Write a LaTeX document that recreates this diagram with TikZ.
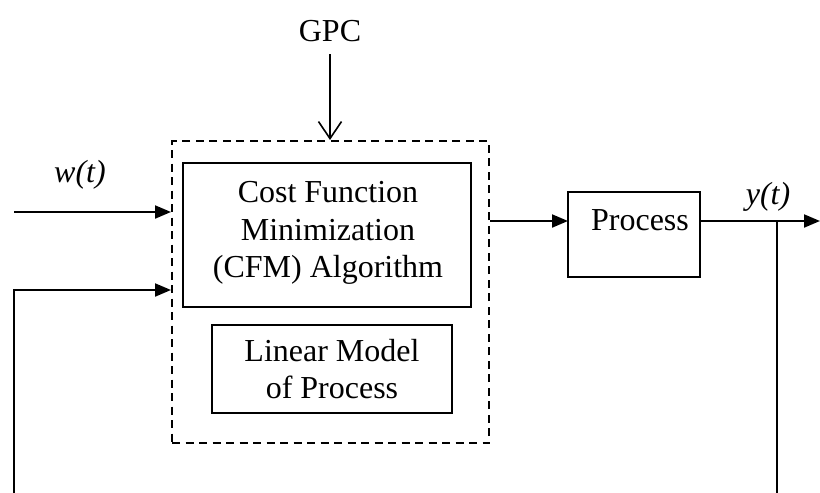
\documentclass[tikz,border=0pt]{standalone}
\usepackage{fontspec}
\setmainfont{Liberation Serif}
\usetikzlibrary{arrows.meta}
\begin{document}
\begin{tikzpicture}[x=1pt,y=-1pt,
  every node/.style={font=\fontsize{32}{37.5}\selectfont,align=center},
  blk/.style={draw,line width=2pt,inner sep=0pt},
  frame/.style={draw,line width=2pt,dash pattern=on 8pt off 5.5pt,inner sep=0pt},
  wire/.style={line width=2pt},
  flow/.style={wire,-{Triangle[length=16pt,width=13pt]}},
  gpcarrow/.style={line width=1.6pt,-{Straight Barb[length=17pt,width=23pt,line width=1.6pt]}}
]
\useasboundingbox (0,0) rectangle (820,493);

% controller frame and its blocks
\node[frame,minimum width=317pt,minimum height=302pt] (gpc) at (330.5,292) {};
\node[blk,minimum width=288pt,minimum height=144pt] (cfm) at (327,235) {};
\node at (328,233) {Cost Function\\Minimization\\(CFM) Algorithm};
\node[blk,minimum width=240pt,minimum height=88pt] (lin) at (332,369) {};
\node at (332,369) {Linear Model\\of Process};
\node[blk,minimum width=132pt,minimum height=85pt] (proc) at (634,234.5) {};
\node at (640,220) {Process};

% labels
\node (gpclbl) at (330,31) {GPC};
\node (wlbl) at (80,175) {\itshape w(t)};
\node (ylbl) at (768,197) {\itshape y(t)};

% helper points
\coordinate (win) at (14,212);
\coordinate (fbl) at (14,493);
\coordinate (fbltop) at (14,290);
\coordinate (pin) at (568,221);
\coordinate (yout) at (820,221);
\coordinate (ytap) at (777,221);
\coordinate (fbr) at (777,493);
\coordinate (gtop) at (330,54);

% connectors
\draw[gpcarrow] (gtop) -- (gtop |- gpc.north);
\draw[flow] (win) -- (win -| gpc.west);
\draw[flow] (fbl) -- (fbltop) -- (fbltop -| gpc.west);
\draw[flow] (pin -| gpc.east) -- (pin);
\draw[flow] (pin -| proc.east) -- (yout);
\draw[wire] (ytap) -- (fbr);
\end{tikzpicture}
\end{document}
